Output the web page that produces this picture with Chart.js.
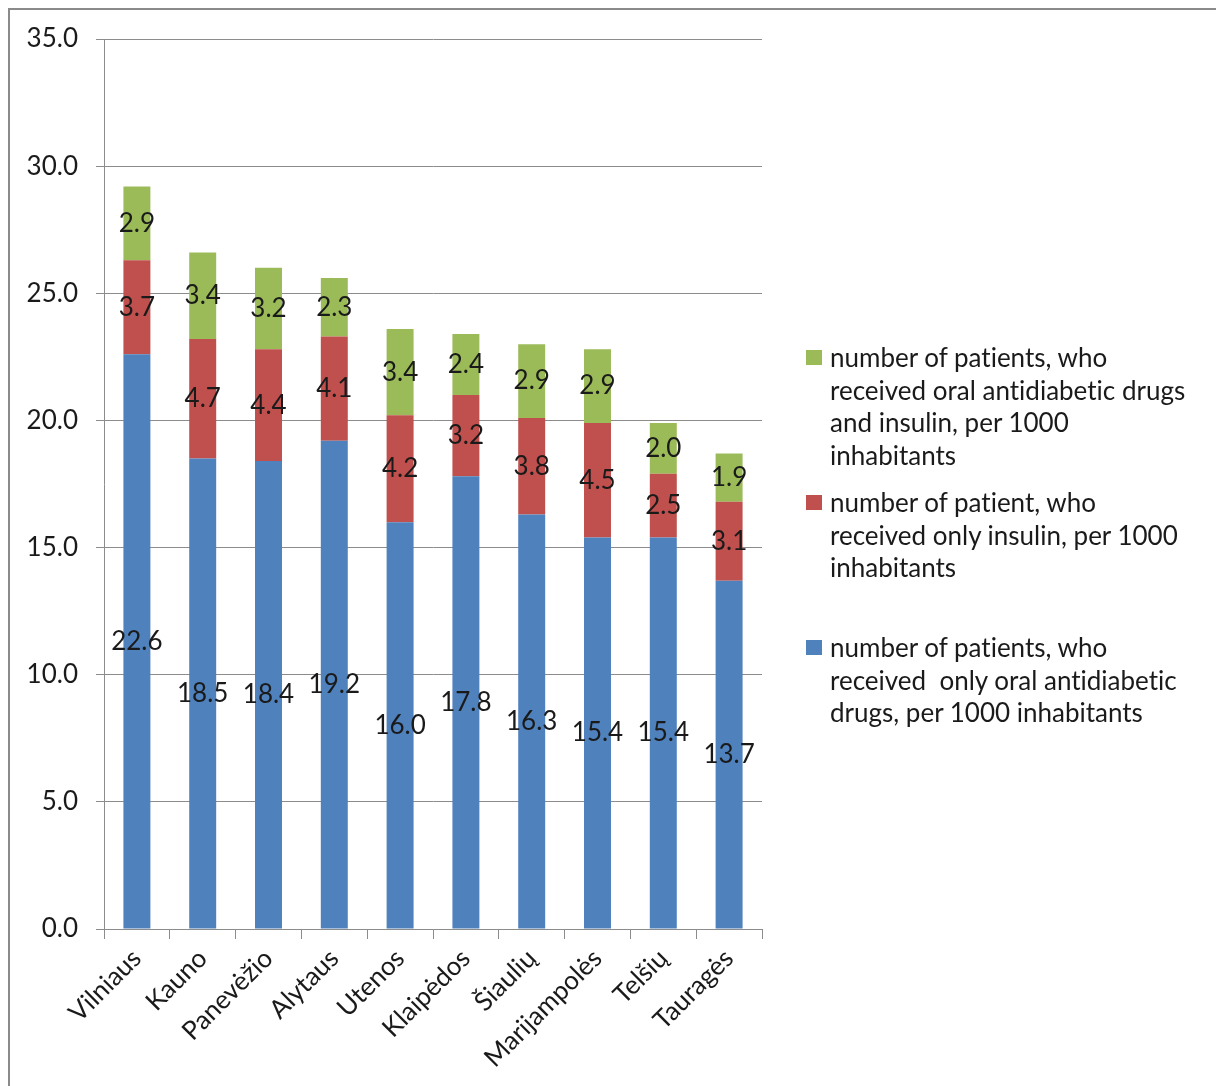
<!DOCTYPE html>
<html>
<head>
<meta charset="utf-8">
<script src="https://cdn.jsdelivr.net/npm/chart.js@4/dist/chart.umd.min.js"></script>
<style>
    body { margin: 0; background: #fff; }
    #wrap { position: relative; width: 1216px; height: 1086px; overflow: hidden; }
    #frame { position: absolute; left: 8px; top: 8px; width: 1300px; height: 1200px;
             border-top: 2px solid #8a8a8a; border-left: 2px solid #8a8a8a; }
    canvas { position: absolute; left: 0; top: 0; }
    .legend-item { position: absolute; left: 806px; font-family: Lato, sans-serif; font-size: 26px;
                   line-height: 32.6px; color: #1a1a1a; font-variant-ligatures: none; }
    .legend-item .box { position: absolute; left: 0; top: 9px; width: 16px; height: 15px; }
    .legend-item .txt { margin-left: 24px; white-space: nowrap; }
</style>
</head>
<body>
<div id="wrap">
    <div id="frame"></div>
    <canvas id="chart" width="1216" height="1086"></canvas>
    <div id="legend"></div>
</div>
<script>
// Regions
const categories = ['Vilniaus', 'Kauno', 'Panevėžio', 'Alytaus', 'Utenos', 'Klaipėdos', 'Šiaulių', 'Marijampolės', 'Telšių', 'Tauragės'];

// Series values (per 1000 inhabitants)
const onlyOral = [22.6, 18.5, 18.4, 19.2, 16.0, 17.8, 16.3, 15.4, 15.4, 13.7];
const onlyInsulin = [3.7, 4.7, 4.4, 4.1, 4.2, 3.2, 3.8, 4.5, 2.5, 3.1];
const oralAndInsulin = [2.9, 3.4, 3.2, 2.3, 3.4, 2.4, 2.9, 2.9, 2.0, 1.9];

const seriesNames = [
    'number of patients, who received  only oral antidiabetic drugs, per 1000 inhabitants',
    'number of patient, who received only insulin, per 1000 inhabitants',
    'number of patients, who received oral antidiabetic drugs and insulin, per 1000 inhabitants'
];

// Legend text, line by line, top to bottom
const legendLines = [
    ['number of patients, who', 'received oral antidiabetic drugs', 'and insulin, per 1000', 'inhabitants'],
    ['number of patient, who', 'received only insulin, per 1000', 'inhabitants'],
    ['number of patients, who', 'received&nbsp; only oral antidiabetic', 'drugs, per 1000 inhabitants']
];

const colors = ['#4F81BD', '#C0504D', '#9BBB59'];
const FONT = 'Lato, sans-serif';

// Draw value in the middle of every segment
const segmentLabels = {
    id: 'segmentLabels',
    afterDatasetsDraw(chart) {
        const ctx = chart.ctx;
        ctx.save();
        ctx.font = '26px ' + FONT;
        ctx.fillStyle = '#1a1a1a';
        ctx.textAlign = 'center';
        ctx.textBaseline = 'middle';
        chart.data.datasets.forEach((ds, i) => {
            chart.getDatasetMeta(i).data.forEach((bar, j) => {
                ctx.fillText(ds.data[j].toFixed(1), bar.x, (bar.y + bar.base) / 2);
            });
        });
        ctx.restore();
    }
};

new Chart(document.getElementById('chart'), {
    type: 'bar',
    data: {
        labels: categories,
        datasets: [
            { label: seriesNames[0], data: onlyOral, backgroundColor: colors[0] },
            { label: seriesNames[1], data: onlyInsulin, backgroundColor: colors[1] },
            { label: seriesNames[2], data: oralAndInsulin, backgroundColor: colors[2] }
        ]
    },
    options: {
        responsive: false,
        animation: false,
        layout: { padding: { top: 39, right: 454, left: 0, bottom: 0 } },
        datasets: { bar: { barPercentage: 0.41, categoryPercentage: 1 } },
        plugins: {
            legend: { display: false },
            tooltip: { enabled: false }
        },
        scales: {
            x: {
                stacked: true,
                grid: { display: true, drawOnChartArea: false, offset: true, color: '#8c8c8c', tickLength: 10 },
                border: { color: '#8c8c8c' },
                ticks: { minRotation: 45, maxRotation: 45, padding: 4, color: '#1a1a1a', font: { family: FONT, size: 26 } },
                afterFit(scale) { scale.height = 157; }
            },
            y: {
                stacked: true,
                min: 0,
                max: 35,
                grid: { color: '#8c8c8c', tickLength: 8 },
                border: { color: '#8c8c8c' },
                ticks: {
                    stepSize: 5,
                    padding: 18,
                    color: '#1a1a1a',
                    font: { family: FONT, size: 26 },
                    callback: v => v.toFixed(1)
                },
                afterFit(scale) { scale.width = 104; }
            }
        }
    },
    plugins: [segmentLabels]
});

// HTML legend on the right (green, red, blue from top)
const legendTops = [341, 486, 631];
const legendColors = [colors[2], colors[1], colors[0]];
const legend = document.getElementById('legend');
legendLines.forEach((lines, i) => {
    const item = document.createElement('div');
    item.className = 'legend-item';
    item.style.top = legendTops[i] + 'px';
    item.innerHTML = `<div class="box" style="background:${legendColors[i]}"></div><div class="txt">${lines.join('<br>')}</div>`;
    legend.appendChild(item);
});
</script>
</body>
</html>
